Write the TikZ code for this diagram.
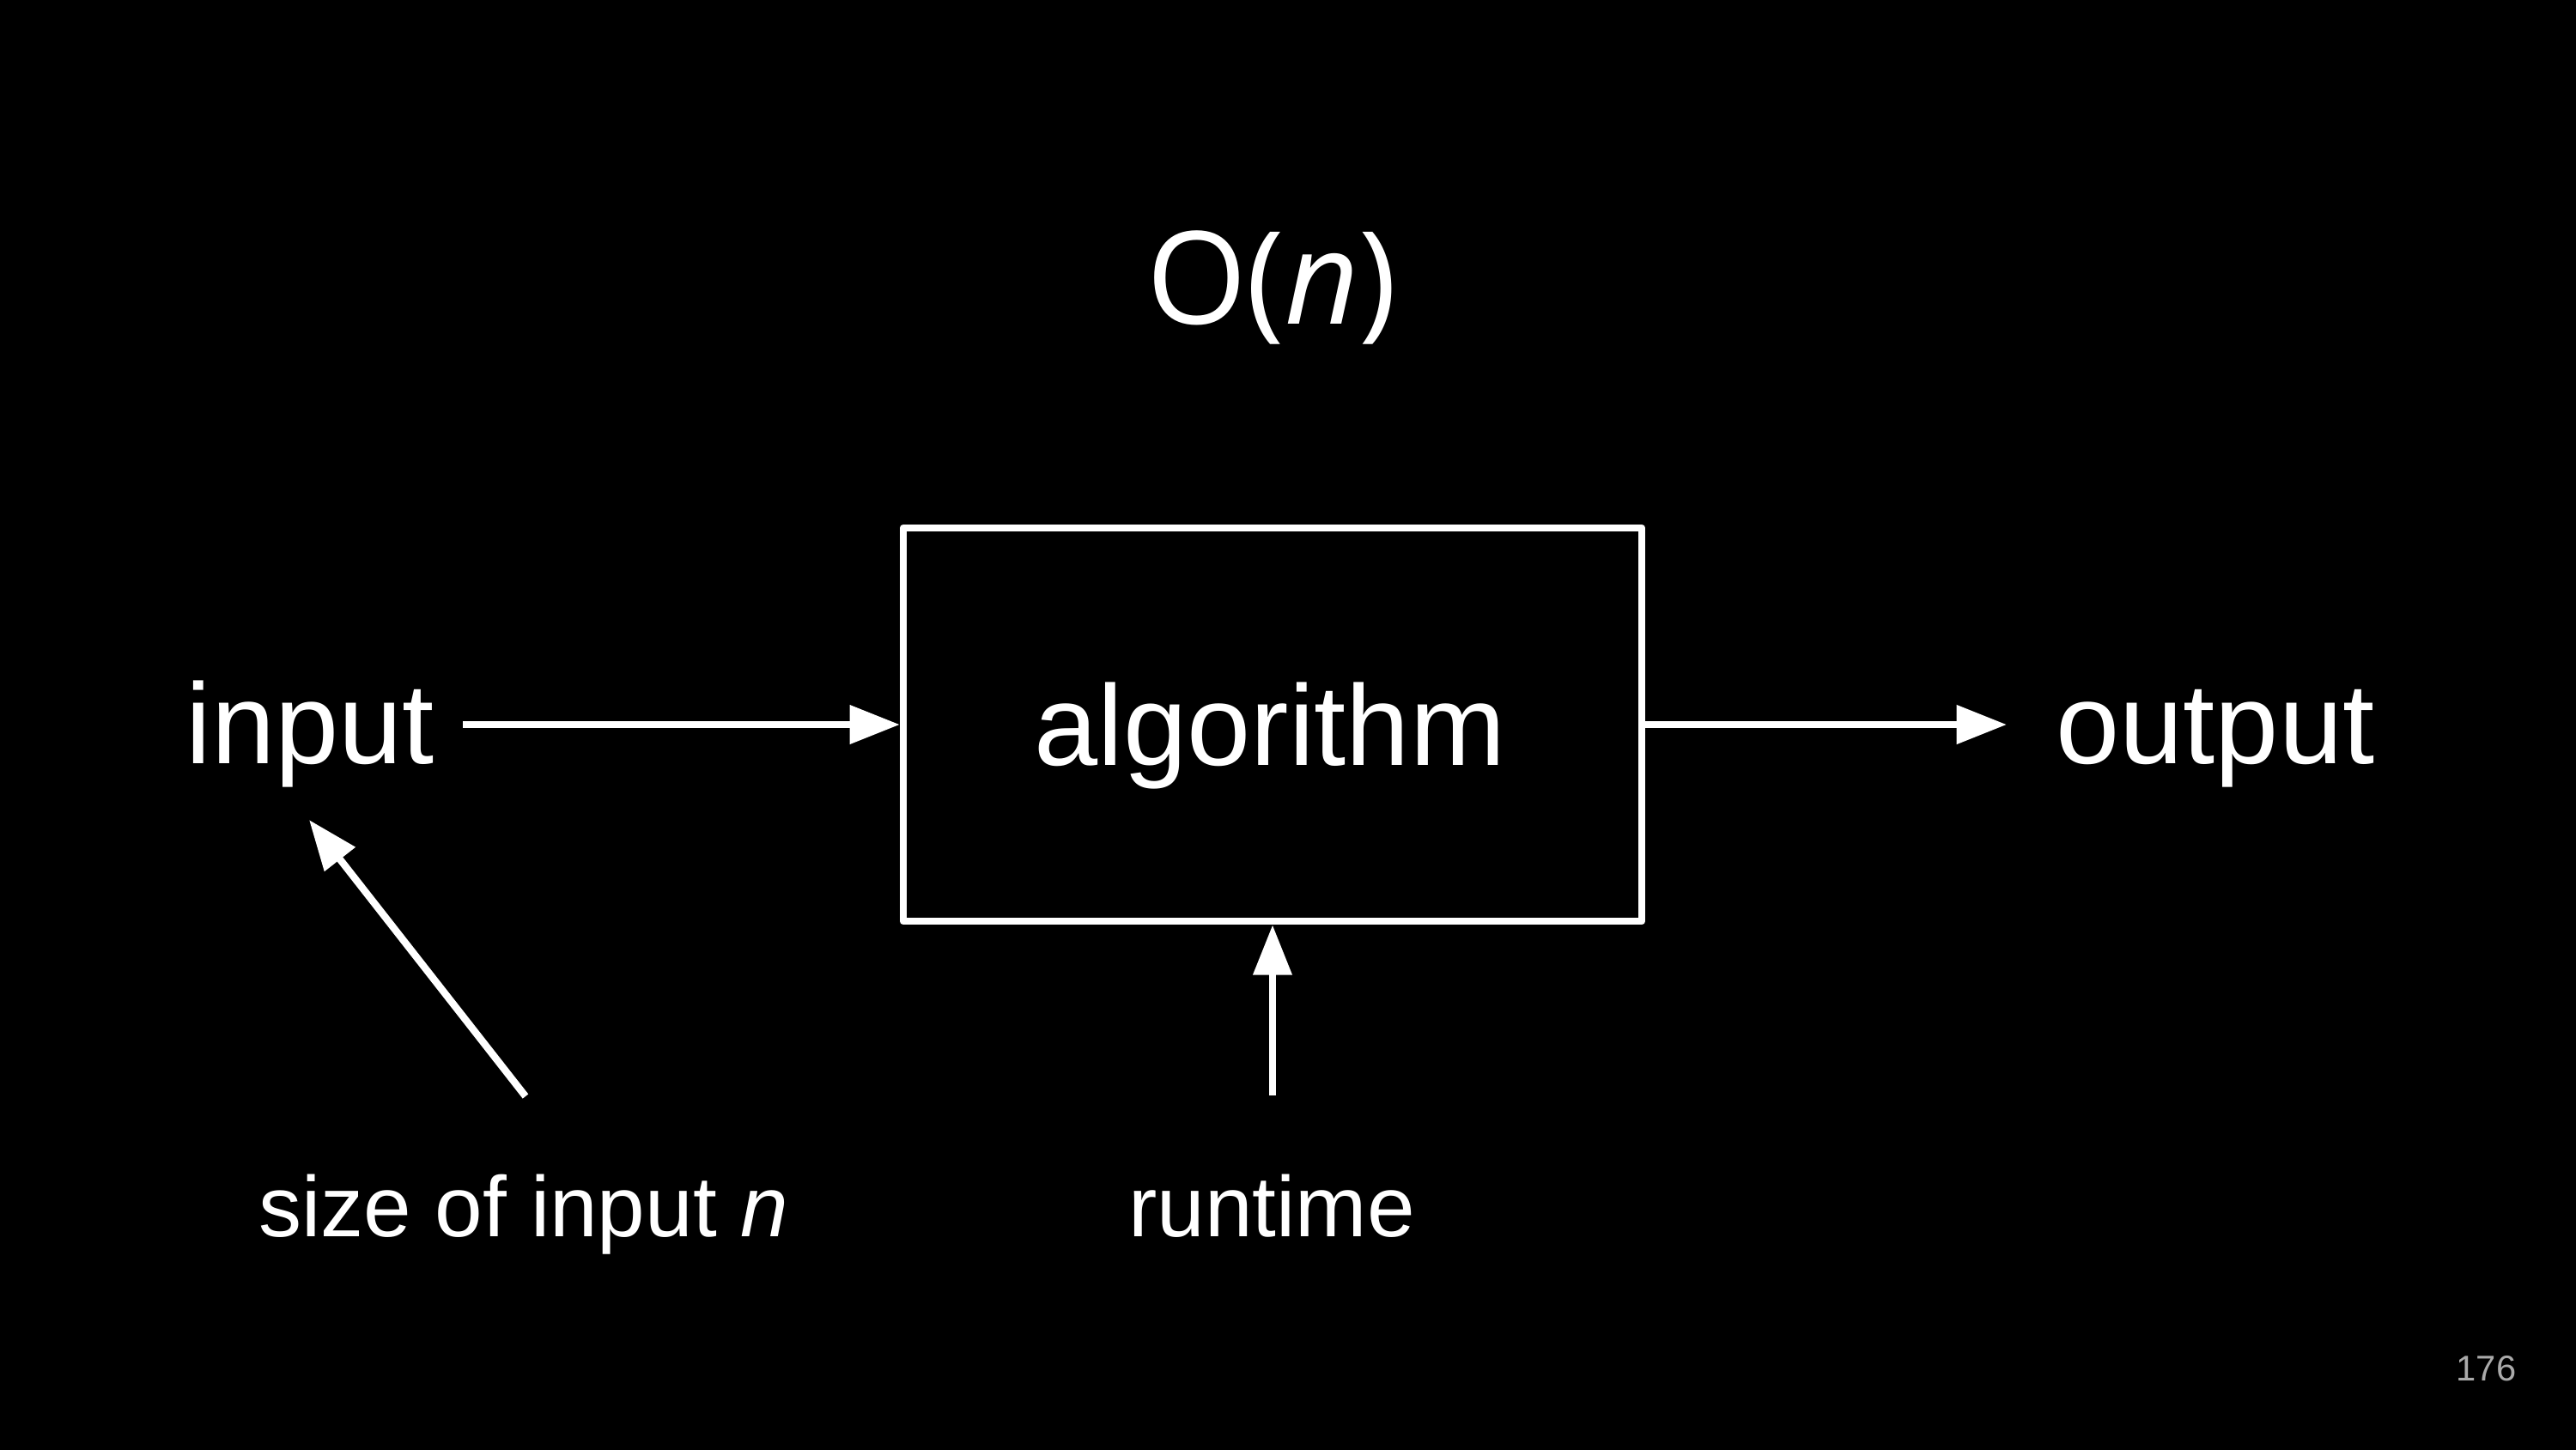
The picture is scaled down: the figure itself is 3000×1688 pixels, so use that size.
\documentclass[tikz,border=0pt]{standalone}
\usepackage{fontspec}
\setmainfont{Liberation Sans}
\newfontfamily\titlefont{Open Sans}
\usetikzlibrary{arrows.meta}
\definecolor{pagenum}{RGB}{170,170,170}
\begin{document}
\begin{tikzpicture}[x=0.24pt,y=-0.24pt,
  lbl/.style={text=white,inner sep=0pt,anchor=base},
  bigtxt/.style={lbl,font=\fontsize{32}{38}\selectfont},
  smalltxt/.style={lbl,font=\fontsize{24}{29}\selectfont},
  algbox/.style={draw=white,line width=2pt,line join=round,fill=black,
    minimum width=206.4pt,minimum height=110pt,inner sep=0pt},
  arr/.style={draw=white,line width=2pt,-{Triangle[length=14pt,width=10.5pt]}}]
\useasboundingbox (0,0) rectangle (3000,1688);
\fill[black,overlay] (-30,-30) rectangle (3030,1718);
% title
\node[lbl,font=\titlefont\fontsize{36}{43}\selectfont] (title) at (1481,377) {O(\textit{n})};
% box
\node[algbox] (algo) at (1482,844) {};
\node[bigtxt] (algotext) at (1479,891) {algorithm};
% side labels
\node[bigtxt] (input) at (361,889) {input};
\node[bigtxt] (output) at (2580,889) {output};
\node[smalltxt] (size) at (610,1440) {size of input \textit{n}};
\node[smalltxt] (runtime) at (1481,1440) {runtime};
\node[lbl,anchor=base east,text=pagenum,font=\fontsize{10}{12}\selectfont] (page) at (2931,1608) {176};
% connector ends
\coordinate (instart) at (539,844);
\coordinate (outtip) at (2337,844);
\coordinate (rtstart) at (1482,1276);
\coordinate (szstart) at (612,1277);
\coordinate (sztip) at (360,955);
% arrows
\draw[arr] (instart) -- (algo.west);
\draw[arr] (algo.east) -- (outtip);
\draw[arr] (rtstart) -- (algo.south);
\draw[arr] (szstart) -- (sztip);
\end{tikzpicture}
\end{document}
